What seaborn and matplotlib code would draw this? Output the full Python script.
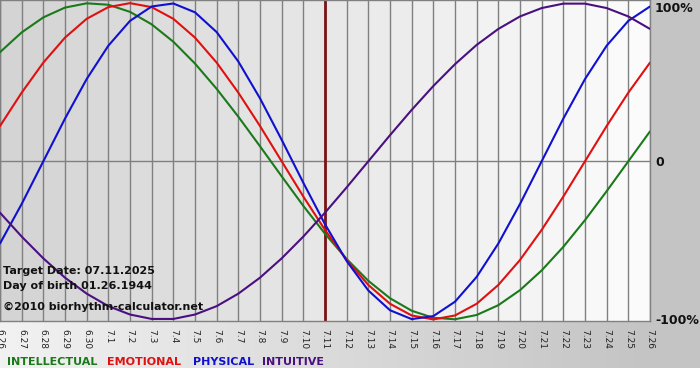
import numpy as np
import pandas as pd
import seaborn as sns
import matplotlib.pyplot as plt
from matplotlib.colors import LinearSegmentedColormap

sns.set_theme(style="white")
plt.rcParams["font.family"] = ["DejaVu Sans"]

## Data (percent, one value per day)
dates = ["6.26", "6.27", "6.28", "6.29", "6.30", "7.1", "7.2", "7.3", "7.4", "7.5",
         "7.6", "7.7", "7.8", "7.9", "7.10", "7.11", "7.12", "7.13", "7.14", "7.15",
         "7.16", "7.17", "7.18", "7.19", "7.20", "7.21", "7.22", "7.23", "7.24", "7.25",
         "7.26"]

intellectual = [69.0, 81.5, 91.0, 97.2, 99.9, 99.0, 94.5, 86.6, 75.6, 61.8,
                45.8, 28.2, 9.5, -9.5, -28.2, -45.8, -61.8, -75.6, -86.6, -94.5,
                -99.0, -99.9, -97.2, -91.0, -81.5, -69.0, -54.1, -37.2, -18.9, 0.0,
                18.9]
emotional = [22.3, 43.4, 62.4, 78.2, 90.1, 97.5, 100.0, 97.5, 90.1, 78.2,
             62.4, 43.4, 22.3, 0.0, -22.3, -43.4, -62.4, -78.2, -90.1, -97.5,
             -100.0, -97.5, -90.1, -78.2, -62.4, -43.4, -22.3, 0.0, 22.3, 43.4,
             62.4]
physical = [-52.0, -27.0, 0.0, 27.0, 52.0, 73.1, 88.8, 97.9, 99.8, 94.2,
            81.7, 63.1, 39.8, 13.6, -13.6, -39.8, -63.1, -81.7, -94.2, -99.8,
            -97.9, -88.8, -73.1, -52.0, -27.0, 0.0, 27.0, 52.0, 73.1, 88.8,
            97.9]
intuitive = [-32.5, -47.6, -61.4, -73.6, -83.7, -91.6, -96.9, -99.7, -99.7, -96.9,
             -91.6, -83.7, -73.6, -61.4, -47.6, -32.5, -16.5, 0.0, 16.5, 32.5,
             47.6, 61.4, 73.6, 83.7, 91.6, 96.9, 99.7, 99.7, 96.9, 91.6,
             83.7]

rhythms = ["INTELLECTUAL", "EMOTIONAL", "PHYSICAL", "INTUITIVE"]
pct_labels = ["100%", "0", "-100%"]
target_date = "7.11"
info_lines = ["Target Date: 07.11.2025", "Day of birth 01.26.1944"]
copyright_line = "\u00a92010 biorhythm-calculator.net"

colors = {
    "INTELLECTUAL": "#1a7a1a",
    "EMOTIONAL": "#e01010",
    "PHYSICAL": "#1010d0",
    "INTUITIVE": "#4a1080",
}

## Long table for seaborn
day_idx = list(range(len(dates)))
df = pd.concat(
    [
        pd.DataFrame({"day": day_idx, "value": vals, "rhythm": name})
        for name, vals in zip(rhythms, [intellectual, emotional, physical, intuitive])
    ],
    ignore_index=True,
)

W, H = 700, 380
fig = plt.figure(figsize=(7, 3.8), dpi=100, facecolor="white")

# --- gray frame with horizontal gradient (light left -> darker right) ---
bg = fig.add_axes([0, 12 / H, 1, 368 / H])
frame_cmap = LinearSegmentedColormap.from_list("frame", ["#f2f2f2", "#c4c4c4"])
grad = np.clip(np.linspace(0, 1, 700).reshape(1, -1) / (650 / 700), 0, 1)
bg.imshow(grad, aspect="auto", cmap=frame_cmap, extent=[0, 1, 0, 1])
bg.set_axis_off()

# --- plot area ---
ax = fig.add_axes([0, 59 / H, 650 / W, 321 / H])
ax.set_facecolor("none")
shades = np.linspace(0.83, 0.985, len(dates) - 1)
for i, s in enumerate(shades):
    ax.axvspan(i, i + 1, color=(s, s, s), lw=0, zorder=0)

sns.lineplot(
    data=df, x="day", y="value", hue="rhythm", hue_order=rhythms,
    palette=colors, linewidth=1.5, legend=False, ax=ax, zorder=3,
)

ax.set_xlim(0, len(dates) - 1)
ax.set_ylim(-101, 102)
ax.set_xticks(day_idx)
ax.set_xticklabels(dates)
ax.set_yticks([])
ax.set_xlabel("")
ax.set_ylabel("")
ax.grid(axis="x", color="#808080", linewidth=1, zorder=1)
ax.set_axisbelow(True)
ax.axhline(0, color="#808080", linewidth=1, zorder=1)
ax.axvline(dates.index(target_date), color="#7a1414", linewidth=2, zorder=2)
for sp in ax.spines.values():
    sp.set_color("#808080")
    sp.set_linewidth(1)
ax.tick_params(axis="x", length=4, width=1, color="#808080", direction="out",
               labelsize=6.5, labelcolor="#222222", labelrotation=-90, pad=2)
for lbl in ax.get_xticklabels():
    lbl.set_horizontalalignment("center")
    lbl.set_verticalalignment("top")

# right-hand percentage labels (pixel rows of the reference)
for y_px, txt in zip([8, 162, 321], pct_labels):
    fig.text(655 / W, 1 - y_px / H, txt, ha="left", va="center",
             fontsize=9, fontweight="bold", color="#111111")

# info texts
for y_px, txt in zip([271, 286, 307], info_lines + [copyright_line]):
    fig.text(3 / W, 1 - y_px / H, txt, fontsize=8, fontweight="bold",
             va="center", ha="left", color="#111111", zorder=10)

# legend row
legend_x = [7, 107, 193, 262]
for x, name in zip(legend_x, rhythms):
    fig.text(x / W, 1 - 362 / H, name, fontsize=8, fontweight="bold",
             color=colors[name], ha="left", va="center")

fig.savefig("out.png", dpi=100, facecolor="white")
